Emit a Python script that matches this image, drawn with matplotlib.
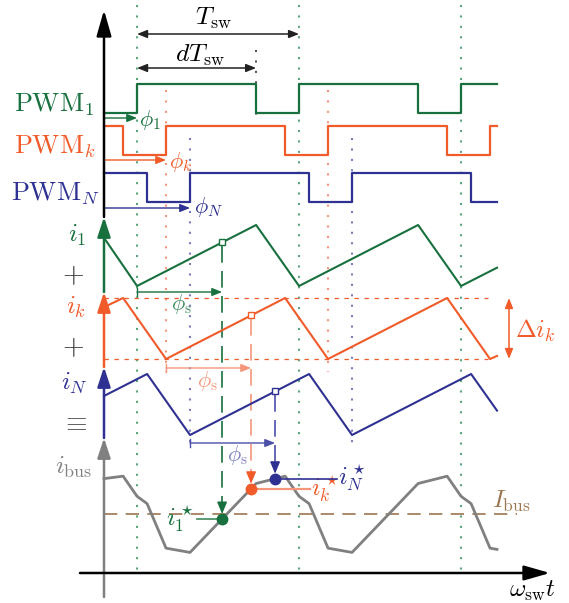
import numpy as np
import matplotlib
matplotlib.use("Agg")
import matplotlib.pyplot as plt

plt.rcParams['mathtext.fontset'] = 'cm'
plt.rcParams['font.family'] = ['DejaVu Serif']

# time in units of the switching period, t = 0 on the vertical axis
pwm1_t = [0.0, 0.204, 0.939, 1.204, 1.939, 2.204, 2.426]
pwm1_s = [0, 1, 0, 1, 0, 1, 1]
pwmk_t = [0.0, 0.118, 0.383, 1.118, 1.383, 2.118, 2.383, 2.426]
pwmk_s = [1, 0, 1, 0, 1, 0, 1, 1]
pwmN_t = [0.0, 0.266, 0.531, 1.266, 1.531, 2.266, 2.426]
pwmN_s = [1, 0, 1, 0, 1, 0, 0]

# phase currents, normalised to the ripple (0 = valley, 1 = peak)
i1_v = [0.79, 0.0, 1.0, 0.0, 1.0, 0.0, 0.30]
ik_v = [0.85, 1.0, 0.0, 1.0, 0.0, 1.0, 0.0, 0.05]
iN_v = [0.64, 1.0, 0.0, 1.0, 0.0, 1.0, 0.40]

# bus current relative to its mean I_bus (same units as the ripple)
ibus_t = [0.0, 0.118, 0.204, 0.266, 0.383, 0.531, 0.939, 1.118, 1.204, 1.266,
          1.383, 1.531, 1.939, 2.118, 2.204, 2.266, 2.383, 2.426]
ibus_v = [0.58, 0.62, 0.29, 0.17, -0.56, -0.63, 0.50, 0.62, 0.29, 0.17,
          -0.56, -0.63, 0.50, 0.62, 0.29, 0.17, -0.56, -0.58]

d = 0.735
phi = [0.204, 0.383, 0.531]
phi_s = 0.525

GREEN = '#17703d'
ORANGE = '#f15a29'
BLUE = '#2e3192'
GRAY = '#808080'
BROWN = '#9c7650'
LGREEN = '#5aa67a'
LORANGE = '#f5967a'
LBLUE = '#7a7dc0'

# layout: pixels per period and position of the vertical axis
PX = 162.0
X0 = 104.0


def X(px):
    return (px - X0) / PX


fig = plt.figure(figsize=(5.69, 6.03), dpi=100)
ax = fig.add_axes([0, 0, 1, 1])
ax.set_xlim(X(0), X(569))
ax.set_ylim(603, 0)
ax.axis('off')

dot = (0, (1, 4))

# vertical guides
for t in [phi[0], phi[0] + 1, phi[0] + 2]:
    ax.plot([t, t], [5, 573], ls=dot, lw=1.5, color=LGREEN, zorder=1)
for t in [phi[1], phi[1] + 1]:
    ax.plot([t, t], [90, 372], ls=dot, lw=1.5, color=LORANGE, zorder=1)
for t in [phi[2], phi[2] + 1]:
    ax.plot([t, t], [138, 450], ls=dot, lw=1.5, color=LBLUE, zorder=1)
ax.plot([phi[0] + d] * 2, [50, 120], ls=dot, lw=1.5, color='#555555', zorder=1)

# PWM rows
pwm_amp = 29
pwm_rows = [(pwm1_t, pwm1_s, 113, GREEN), (pwmk_t, pwmk_s, 155, ORANGE),
            (pwmN_t, pwmN_s, 202, BLUE)]
for t, s, base, c in pwm_rows:
    ax.step(t, base - pwm_amp * np.array(s), where='post', color=c, lw=1.6, zorder=3)

# current rows
i_amp = 61
i_rows = [(pwm1_t, i1_v, 286, GREEN), (pwmk_t, ik_v, 359, ORANGE),
          (pwmN_t, iN_v, 435, BLUE)]
for t, v, base, c in i_rows:
    ax.plot(t, base - i_amp * np.array(v), color=c, lw=1.5, zorder=3)

# ripple bounds of i_k
for y in [298, 359]:
    ax.plot([0, X(488)], [y, y], ls=(0, (3.5, 4.5)), lw=0.9, color=ORANGE, zorder=2)
ax.annotate('', xy=(X(509), 298), xytext=(X(509), 359),
            arrowprops=dict(arrowstyle='<|-|>,head_length=0.5,head_width=0.2',
                            color=ORANGE, lw=1.1, mutation_scale=12, shrinkA=0, shrinkB=0))
ax.text(X(515), 338, r'$\Delta i_k$', color=ORANGE, fontsize=18, ha='left', va='baseline')

# bus current
IBUS_Y = 514
ax.plot(ibus_t, IBUS_Y - i_amp * np.array(ibus_v), color=GRAY, lw=2.0, zorder=3)
ax.plot([0, X(517)], [IBUS_Y, IBUS_Y], ls=(0, (8, 5)), lw=1.2, color=BROWN, zorder=2)
ax.text(X(492), 508, r'$I_\mathrm{bus}$', color=BROWN, fontsize=18, ha='left', va='baseline')

# sampling instants
t_samp = [p + phi_s for p in phi]
dash_c = [GREEN, LORANGE, '#4a4fa8']
arr_y = [292, 368, 443]
for (t, v, base, c), ts, dc, ay in zip(i_rows, t_samp, dash_c, arr_y):
    sq_y = base - i_amp * np.interp(ts, t, v)
    bus_y = IBUS_Y - i_amp * np.interp(ts, ibus_t, ibus_v)
    ax.plot([ts], [sq_y], marker='s', ms=5, mfc='white', mec=c, mew=1.0, zorder=5)
    ax.plot([ts, ts], [sq_y + 4, bus_y - 14], ls=(0, (10, 5)), lw=1.2, color=dc, zorder=2)
    ax.annotate('', xy=(ts, bus_y - 5), xytext=(ts, bus_y - 15),
                arrowprops=dict(arrowstyle='-|>,head_length=0.6,head_width=0.25',
                                color=c, lw=1.0, mutation_scale=12, shrinkA=0, shrinkB=0))
    ax.plot([ts], [bus_y], marker='o', ms=7.5, color=c, zorder=6)
    # phase shift phi_s
    ax.annotate('', xy=(ts, ay), xytext=(ts - phi_s, ay),
                arrowprops=dict(arrowstyle='-|>,head_length=0.5,head_width=0.2',
                                color=dc, lw=1.0, mutation_scale=12, shrinkA=0, shrinkB=0))
    ax.plot([ts - phi_s] * 2, [ay - 4, ay + 4], color=dc, lw=1.0)

phs_lbl = [(181, 304, '#3d8a5a'), (207, 381, LORANGE), (237, 455, LBLUE)]
for px, py, c in phs_lbl:
    ax.text(X(px), py, r'$\phi_\mathrm{s}$', color=c, fontsize=16, ha='center', va='center')

# sampled values
bus_s = [IBUS_Y - i_amp * np.interp(ts, ibus_t, ibus_v) for ts in t_samp]
ax.plot([X(197), t_samp[0]], [bus_s[0]] * 2, color='#3d8a5a', lw=1.2, zorder=4)
ax.plot([t_samp[1], X(310)], [bus_s[1]] * 2, color=LORANGE, lw=1.6, zorder=4)
ax.plot([t_samp[2], X(337)], [bus_s[2]] * 2, color=BLUE, lw=1.2, zorder=4)
ax.text(X(194), 526, r'$i_1^\star$', color=GREEN, fontsize=18, ha='right', va='baseline')
ax.text(X(311), 496, r'$i_k^\star$', color=ORANGE, fontsize=18, ha='left', va='baseline')
ax.text(X(338), 485, r'$i_N^\star$', color=BLUE, fontsize=18, ha='left', va='baseline')

# phase delays
for p, y, c, lx, ly, lab in zip(phi, [118, 160, 208], [GREEN, ORANGE, BLUE],
                                [139, 169, 194], [120, 162, 207],
                                [r'$\phi_1$', r'$\phi_k$', r'$\phi_N$']):
    ax.annotate('', xy=(p, y), xytext=(0, y),
                arrowprops=dict(arrowstyle='-|>,head_length=0.5,head_width=0.2',
                                color=c, lw=1.0, mutation_scale=12, shrinkA=0, shrinkB=0))
    ax.text(X(lx), ly, lab, color=c, fontsize=16, ha='left', va='center')

# period and duty cycle
for y, t1 in [(34, phi[0] + 1), (68, phi[0] + d)]:
    ax.annotate('', xy=(t1, y), xytext=(phi[0], y),
                arrowprops=dict(arrowstyle='<|-|>,head_length=0.5,head_width=0.2',
                                color='#222222', lw=1.1, mutation_scale=12, shrinkA=0, shrinkB=0))
ax.text(X(213), 25, r'$T_\mathrm{sw}$', fontsize=18.5, ha='center', va='baseline')
ax.text(X(200), 62, r'$dT_\mathrm{sw}$', fontsize=18.5, ha='center', va='baseline')


# axes
def arrow(xy, xytext, c, ms, hl, hw):
    ax.annotate('', xy=xy, xytext=xytext,
                arrowprops=dict(arrowstyle=f'-|>,head_length={hl},head_width={hw}',
                                color=c, lw=1.8, mutation_scale=ms, shrinkA=0, shrinkB=0),
                zorder=4)


arrow((0, 10), (0, 217), 'black', 15, 1.05, 0.3)
arrow((0, 217), (0, 292), GREEN, 12, 1.0, 0.33)
arrow((0, 292), (0, 367), ORANGE, 12, 1.0, 0.33)
arrow((0, 367), (0, 438), BLUE, 12, 1.0, 0.33)
arrow((0, 438), (0, 597), GRAY, 12, 1.0, 0.33)
arrow((X(550), 573), (X(80), 573), 'black', 15, 1.05, 0.3)
ax.text(X(556), 597, r'$\omega_\mathrm{sw}t$', fontsize=18, ha='right', va='baseline')

# row labels
ax.text(X(94), 112, r'$\mathrm{PWM}_1$', color=GREEN, fontsize=19, ha='right', va='baseline')
ax.text(X(96), 154, r'$\mathrm{PWM}_k$', color=ORANGE, fontsize=19, ha='right', va='baseline')
ax.text(X(100), 201, r'$\mathrm{PWM}_N$', color=BLUE, fontsize=19, ha='right', va='baseline')
ax.text(X(86), 242, r'$i_1$', color=GREEN, fontsize=18.5, ha='right', va='baseline')
ax.text(X(86), 314, r'$i_k$', color=ORANGE, fontsize=18.5, ha='right', va='baseline')
ax.text(X(88), 390, r'$i_N$', color=BLUE, fontsize=18.5, ha='right', va='baseline')
ax.text(X(92), 474, r'$i_\mathrm{bus}$', color=GRAY, fontsize=18.5, ha='right', va='baseline')
ax.text(X(73), 276, r'$+$', color='#333333', fontsize=20, ha='center', va='center')
ax.text(X(73), 348, r'$+$', color='#333333', fontsize=20, ha='center', va='center')
ax.text(X(74), 423, r'$\equiv$', color='#333333', fontsize=20, ha='center', va='center')

fig.savefig('out.png', dpi=100)
